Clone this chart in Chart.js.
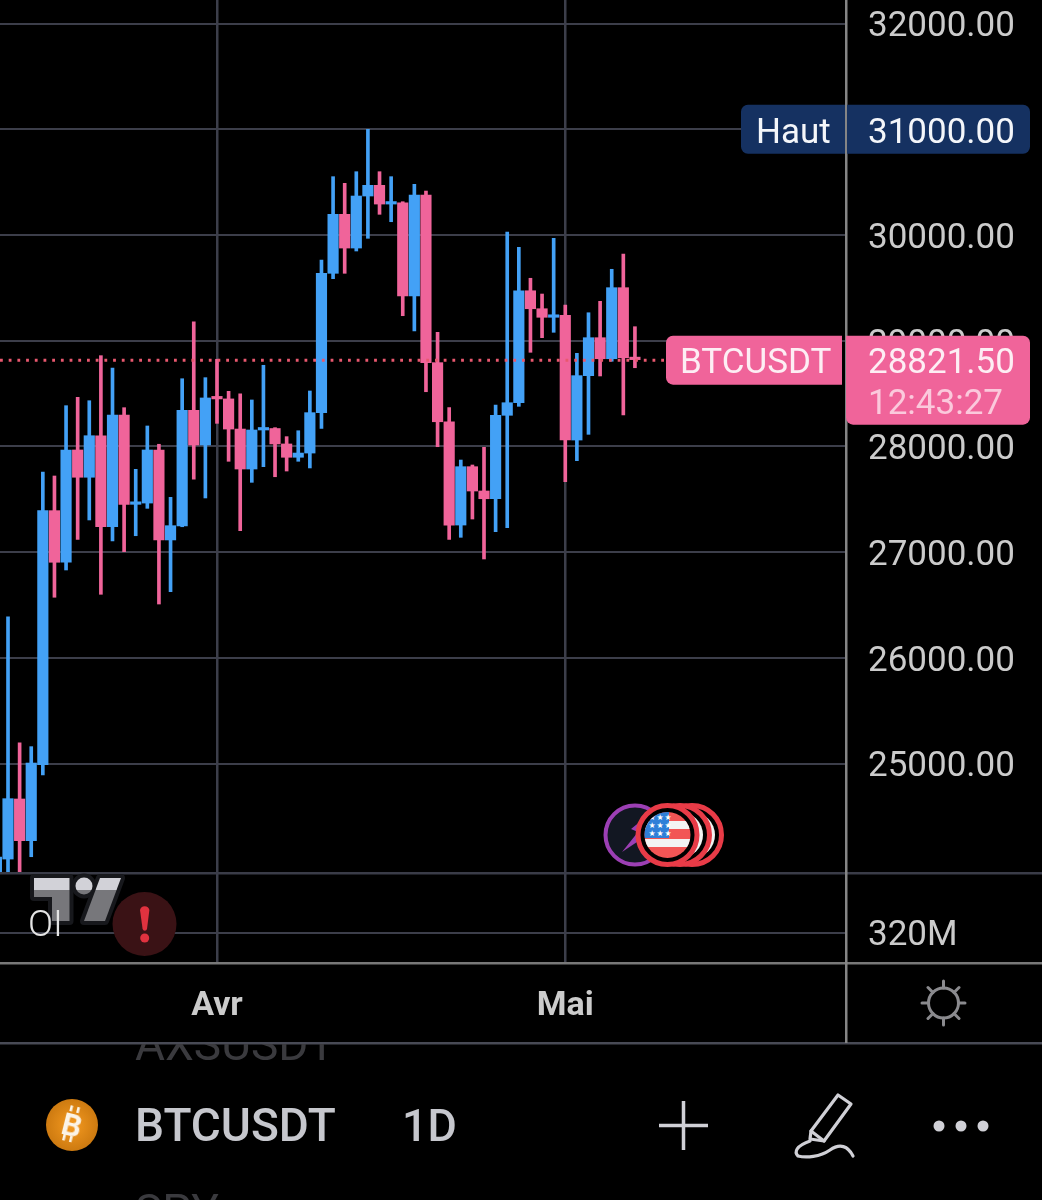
<!DOCTYPE html>
<html>
<head>
<meta charset="utf-8">
<script src="https://cdn.jsdelivr.net/npm/chart.js@4"></script>
<style>
html, body { margin: 0; padding: 0; background: #000; width: 1042px; height: 1200px; overflow: hidden; }
body { position: relative; font-family: Roboto, sans-serif; }
canvas { position: absolute; left: 0; top: 0; }
.txt { position: absolute; white-space: nowrap; line-height: 1; }
svg.ov { position: absolute; left: 0; top: 0; pointer-events: none; }
</style>
</head>
<body>
<canvas id="chart" width="1042" height="1045"></canvas>

<svg class="ov" width="1042" height="1200" viewBox="0 0 1042 1200">
  <defs>
    <linearGradient id="tvGrad" x1="0" y1="878" x2="0" y2="921" gradientUnits="userSpaceOnUse">
      <stop offset="0.27" stop-color="#d2d2d8"/><stop offset="0.27" stop-color="#77777b"/>
    </linearGradient>
    <radialGradient id="btcGrad" cx="0.5" cy="0.5" r="0.55">
      <stop offset="0" stop-color="#f59a20"/><stop offset="1" stop-color="#c9770f"/>
    </radialGradient>
    <clipPath id="flagClip"><circle cx="667.5" cy="835" r="23"/></clipPath>
  </defs>

  <!-- logo -->
  <g stroke="#17181c" stroke-width="8" stroke-linejoin="round" fill="#17181c">
    <path d="M34 878H69.5V921H52V897H34Z"/><circle cx="84" cy="886" r="8.5"/><path d="M100 878H121L105 921H84Z"/>
  </g>
  <g fill="url(#tvGrad)">
    <path d="M34 878H69.5V921H52V897H34Z"/><circle cx="84" cy="886" r="8.5"/><path d="M100 878H121L105 921H84Z"/>
  </g>

  <!-- alert -->
  <circle cx="144.5" cy="924" r="32" fill="#3a1215"/>
  <path d="M140 910a4.8 4.8 0 0 1 9.4 0L147 929a2.3 2.3 0 0 1-4.4 0Z" fill="#e0323f"/>
  <circle cx="144.7" cy="938" r="4.5" fill="#e0323f"/>

  <!-- events -->
  <circle cx="635" cy="835" r="29.5" fill="#121722" stroke="#9c3fb4" stroke-width="4"/>
  <path d="M652 812L631 829L638 832L622 852L646 836L639 832Z" fill="#9c3fb4"/>
  <circle cx="692" cy="835" r="29.5" fill="#000" stroke="#e83b47" stroke-width="5"/>
  <circle cx="692" cy="835" r="23" fill="#f3f3f3"/>
  <circle cx="680" cy="835" r="29.5" fill="#000" stroke="#e83b47" stroke-width="5"/>
  <circle cx="680" cy="835" r="23" fill="#f3f3f3"/>
  <circle cx="667.5" cy="835" r="29.5" fill="#000" stroke="#e83b47" stroke-width="5"/>
  <g clip-path="url(#flagClip)">
    <rect x="644" y="812" width="48" height="46" fill="#f25555"/>
    <rect x="644" y="821" width="48" height="8" fill="#f3f3f3"/>
    <rect x="644" y="839" width="48" height="8" fill="#f3f3f3"/>
    <rect x="644" y="812" width="25" height="26" fill="#2f7fd8"/>
    <g fill="#fff" font-family="DejaVu Sans" font-size="8" text-anchor="middle">
      <text x="652" y="820">★</text><text x="660" y="820">★</text><text x="668" y="820">★</text>
      <text x="652" y="828">★</text><text x="660" y="828">★</text><text x="668" y="828">★</text>
      <text x="652" y="836">★</text><text x="660" y="836">★</text><text x="668" y="836">★</text>
    </g>
  </g>

  <!-- settings -->
  <g stroke="#8a8a8e" stroke-width="3" fill="none" stroke-linecap="round">
    <circle cx="943.5" cy="1003" r="15"/>
    <path d="M943.5 981V988M943.5 1018V1025M922 1003H928.5M958.5 1003H965M928 987.5L933 992.5M954 1013.5L959 1018.5M959 987.5L954 992.5M933 1013.5L928 1018.5"/>
  </g>

  <!-- toolbar icons -->
  <circle cx="72" cy="1125" r="26" fill="url(#btcGrad)"/>
  <g transform="rotate(14 72 1125)" fill="#fbf3e6">
    <text x="72" y="1136" font-family="Roboto" font-weight="700" font-size="31" text-anchor="middle">B</text>
    <rect x="66" y="1106" width="2.6" height="6"/><rect x="73" y="1106" width="2.6" height="6"/>
    <rect x="66" y="1136" width="2.6" height="6"/><rect x="73" y="1136" width="2.6" height="6"/>
  </g>
  <path d="M659 1125.5H708M683.5 1101V1150" stroke="#d0d0d6" stroke-width="3.5" fill="none"/>
  <g stroke="#d0d0d6" stroke-width="3.2" fill="none" stroke-linejoin="round" stroke-linecap="round">
    <path d="M838 1095L851 1104L824 1141L810 1139L811 1131Z"/>
    <path d="M811 1131L824 1141"/>
    <path d="M853 1156C848 1146 840 1143 830 1150C820 1157 806 1158 798 1156C794 1152 796 1146 810 1141"/>
  </g>
  <circle cx="939" cy="1126" r="5.5" fill="#d0d0d6"/>
  <circle cx="961" cy="1126" r="5.5" fill="#d0d0d6"/>
  <circle cx="983" cy="1126" r="5.5" fill="#d0d0d6"/>
</svg>

<div class="txt" style="left:28px;top:905px;font-size:37px;font-weight:300;color:#e4e4e4;">OI</div>
<div class="txt" style="left:135px;top:1021px;height:39px;font-size:46px;color:#3a3a3e;clip-path:inset(23px 0 0 0);">AXSUSDT</div>
<div class="txt" style="left:135px;top:1188px;font-size:46px;color:#3a3a3e;">SPY</div>
<div class="txt" style="left:135px;top:1102px;font-size:46px;font-weight:500;color:#c6c7cd;">BTCUSDT</div>
<div class="txt" style="left:402px;top:1103px;font-size:45px;font-weight:500;color:#c6c7cd;">1D</div>

<script>
const dates = [
    '03-13','03-14','03-15','03-16','03-17','03-18','03-19','03-20','03-21','03-22','03-23','03-24','03-25','03-26','03-27','03-28','03-29','03-30','03-31',
    '04-01','04-02','04-03','04-04','04-05','04-06','04-07','04-08','04-09','04-10','04-11','04-12','04-13','04-14','04-15','04-16','04-17','04-18','04-19','04-20','04-21','04-22','04-23','04-24','04-25','04-26','04-27','04-28','04-29','04-30',
    '05-01','05-02','05-03','05-04','05-05','05-06','05-07'
];
const opens = [
    22150,24098,24666,24272,24990,27393,26905,27967,27709,28102,27241,28298,27453,27465,27967,27116,27248,28342,28014,
    28459,28450,28165,27787,28156,28170,28024,27898,27938,28320,29638,30196,29877,30369,30470,30293,30305,29423,30379,28793,28234,27257,27809,27579,27506,28295,28414,29473,29303,29222,
    29240,28061,28670,29029,28830,29502,28840
];
const closes = [
    24117,24669,24272,25006,27393,26905,27967,27709,28102,27241,28298,27453,27465,27967,27116,27251,28342,28014,28459,
    28450,28165,27787,28156,28170,28024,27898,27938,28320,29638,30196,29877,30369,30470,30293,30305,29423,30379,28793,28234,27257,27809,27579,27506,28295,28414,29473,29303,29222,29240,
    28061,28670,29029,28830,29502,28840,28821.5
];
const highs = [
    24550,26390,25196,25161,27759,27721,28386,28465,28433,28859,28742,28367,27784,28194,28021,27519,28641,29180,28651,
    28825,28522,28497,28440,28768,28178,28093,28149,28525,29764,30552,30489,30599,31000,30599,30552,30315,30480,30416,29080,28367,27872,27825,27992,28392,30029,29884,29591,29442,29969,
    29338,28881,29265,29373,29676,29821,29133
];
const lows = [
    21900,23900,23800,24120,24893,26574,26832,27122,27305,26602,27106,27005,27156,27415,26510,26627,27241,27690,27513,
    28219,27860,27204,27661,27809,27714,27768,27860,27797,28172,29587,29638,29849,29969,30196,30126,29237,29092,28518,27998,27122,27141,27314,26936,27194,27232,28380,28891,29029,29080,
    27667,27866,28115,28667,28806,28298,28745
];
const priceTicks = [25000, 26000, 27000, 28000, 29000, 30000, 31000, 32000];
const oiTicks = [320];
const tickDates = ['04-01', '05-01'];
const tickNames = ['Avr', 'Mai'];
const symbol = 'BTCUSDT';
const countdown = '12:43:27';
const highLabel = 'Haut';
const highValue = 31000;

const UP = '#43a1f6';
const DOWN = '#f0649a';
const GRID = '#3c3e4a';
const TEXT = '#cbcbcb';
const FONT = 'Roboto, sans-serif';

const candleColor = (_, i) => closes[i] >= opens[i] ? UP : DOWN;

// wicks and bodies drawn as two floating bar datasets on top of each other
const wicks = dates.map((_, i) => ({ x: i, y: [lows[i], highs[i]] }));
const bodies = dates.map((_, i) => ({ x: i, y: [opens[i], closes[i]] }));

// fixed axis sizes, and no room kept for labels that overhang the plot
function fixAxis(scale, size) {
    if (scale.isHorizontal()) scale.height = size;
    else scale.width = size;
    scale.paddingTop = scale.paddingBottom = scale.paddingLeft = scale.paddingRight = 0;
}

function roundTag(ctx, x, y, w, h, radii, color) {
    ctx.fillStyle = color;
    ctx.beginPath();
    ctx.roundRect(x, y, w, h, radii);
    ctx.fill();
}

function tagText(ctx, text, x, y, color) {
    ctx.fillStyle = color;
    ctx.font = `35px ${FONT}`;
    ctx.textAlign = 'left';
    ctx.textBaseline = 'middle';
    ctx.fillText(text, x, y);
}

const priceLine = {
    id: 'priceLine',
    afterDatasetsDraw(chart) {
        const ctx = chart.ctx;
        const y = chart.scales.y.getPixelForValue(closes[closes.length - 1]);
        ctx.save();
        ctx.strokeStyle = '#e9586f';
        ctx.lineWidth = 3;
        ctx.setLineDash([2.8, 5.9]);
        ctx.beginPath();
        ctx.moveTo(0, y + 0.5);
        ctx.lineTo(666, y + 0.5);
        ctx.stroke();
        ctx.restore();
    }
};

const frame = {
    id: 'frame',
    afterDraw(chart) {
        const ctx = chart.ctx;
        const { y, y2 } = chart.scales;
        const right = chart.chartArea.right;
        ctx.save();

        // pane separators, then the price axis edge
        ctx.fillStyle = '#3a3c48';
        ctx.fillRect(0, y.bottom - 1, 1042, 2.5);
        ctx.fillStyle = '#787878';
        ctx.fillRect(0, y2.bottom - 1, 1042, 2.5);
        ctx.fillStyle = '#484a55';
        ctx.fillRect(0, 1042, 1042, 2.5);
        ctx.fillStyle = '#858585';
        ctx.fillRect(right - 1, 0, 2.5, 1043);

        // high tag
        const hy = y.getPixelForValue(highValue);
        roundTag(ctx, 741, hy - 24.5, 104, 49, [7, 0, 0, 7], '#153161');
        roundTag(ctx, 847, hy - 24.5, 183, 49, [0, 7, 7, 0], '#153161');
        tagText(ctx, highLabel, 756, hy + 5, '#f4f6fa');
        tagText(ctx, highValue.toFixed(2), 868, hy + 5, '#f4f6fa');

        // last price tag with countdown
        const last = closes[closes.length - 1];
        const py = y.getPixelForValue(last);
        roundTag(ctx, 666, py - 24, 176, 49, [7, 0, 0, 7], DOWN);
        roundTag(ctx, 846, py - 24, 184, 89, [0, 7, 7, 7], DOWN);
        tagText(ctx, symbol, 680, py + 5, '#fdeef4');
        tagText(ctx, last.toFixed(2), 868, py + 5, '#fdeef4');
        tagText(ctx, countdown, 868, py + 46, '#fbc9dc');
        ctx.restore();
    }
};

new Chart(document.getElementById('chart'), {
    type: 'bar',
    data: {
        datasets: [
            { data: bodies, backgroundColor: dates.map(candleColor), barThickness: 10.5, minBarLength: 2.5, grouped: false, order: 1 },
            { data: wicks, backgroundColor: dates.map(candleColor), barThickness: 3, grouped: false, order: 2 }
        ]
    },
    options: {
        responsive: false,
        animation: false,
        layout: { padding: 0, autoPadding: false },
        plugins: { legend: { display: false }, tooltip: { enabled: false } },
        scales: {
            x: {
                type: 'linear',
                position: 'bottom',
                offset: false,
                min: 0.31,
                max: 73.18,
                afterBuildTicks: scale => { scale.ticks = tickDates.map(d => ({ value: dates.indexOf(d) })); },
                afterFit: scale => fixAxis(scale, 82),
                grid: { color: GRID, lineWidth: 2.5, drawTicks: false, offset: false },
                border: { display: false },
                ticks: {
                    autoSkip: false, maxRotation: 0, padding: 23,
                    color: TEXT, font: { family: FONT, size: 34, weight: '700' },
                    callback: (_, i) => tickNames[i]
                }
            },
            y: {
                type: 'linear',
                position: 'right',
                stack: 'panes',
                stackWeight: 873,
                weight: 1,
                min: 23966,
                max: 32223,
                afterBuildTicks: scale => { scale.ticks = priceTicks.map(v => ({ value: v })); },
                afterFit: scale => fixAxis(scale, 196),
                grid: { color: GRID, lineWidth: 2, drawTicks: false },
                border: { display: false },
                ticks: {
                    autoSkip: false, padding: 22, labelOffset: 4, color: TEXT,
                    font: { family: FONT, size: 35 },
                    callback: v => v.toFixed(2)
                }
            },
            y2: {
                type: 'linear',
                position: 'right',
                stack: 'panes',
                stackWeight: 90,
                weight: 2,
                min: 260,
                max: 440,
                afterBuildTicks: scale => { scale.ticks = oiTicks.map(v => ({ value: v })); },
                afterFit: scale => fixAxis(scale, 196),
                grid: { color: GRID, lineWidth: 2, drawTicks: false },
                border: { display: false },
                ticks: {
                    autoSkip: false, padding: 22, labelOffset: 3, color: TEXT,
                    font: { family: FONT, size: 35 },
                    callback: v => v + 'M'
                }
            }
        }
    },
    plugins: [priceLine, frame]
});
</script>
</body>
</html>
